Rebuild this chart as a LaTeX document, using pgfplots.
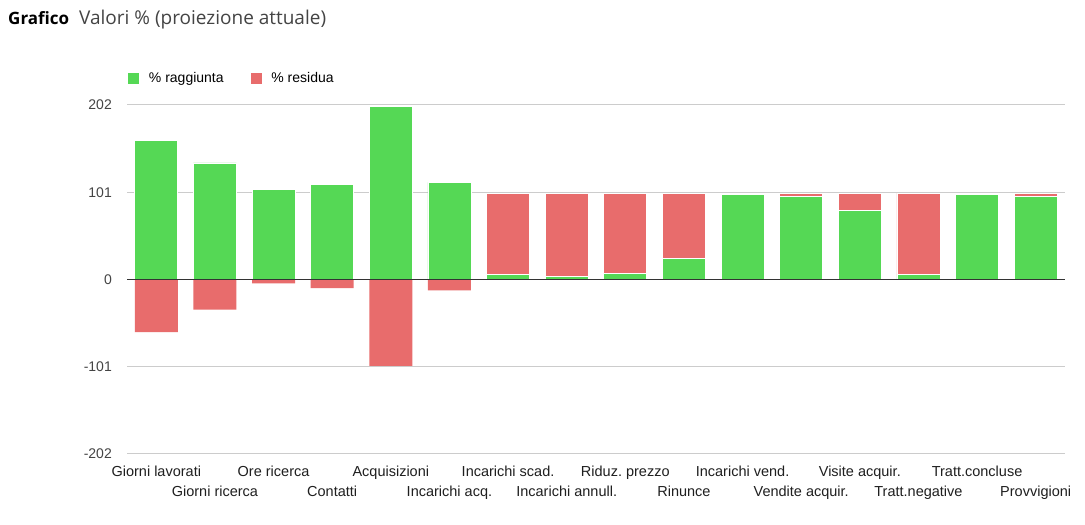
\documentclass[border=0pt]{standalone}
\usepackage{fontspec}
\setmainfont{Liberation Sans}
\newfontfamily\titlefont{Open Sans}
\usepackage{pgfplots}
\usepackage{pgfplotstable}
\pgfplotsset{compat=1.18}
\frenchspacing

\definecolor{verde}{RGB}{85,216,85}
\definecolor{rosso}{RGB}{232,108,108}
\definecolor{griglia}{RGB}{204,204,204}
\definecolor{testo}{RGB}{68,68,68}

% idx, % raggiunta, % residua (sopra), % residua (sotto lo zero)
\pgfplotstableread{
idx raggiunta residua negativa
0  161.0  0.0  -61.0
1  135.0  0.0  -35.0
2  104.5  0.0  -4.5
3  110.0  0.0  -10.0
4  200.0  0.0  -100.0
5  112.5  0.0  -12.5
6  5.4   94.6  0
7  3.1   96.9  0
8  6.6   93.4  0
9  24.0  76.0  0
10 98.0   2.0  0
11 96.4   3.6  0
12 79.5  20.5  0
13 5.4   94.6  0
14 98.0   2.0  0
15 96.4   3.6  0
}\dati

\pgfplotsset{
  base/.style={
    scale only axis, width=938pt, height=349pt,
    at={(127pt,71pt)}, anchor=south west,
    xmin=-0.5, xmax=15.5, ymin=-202, ymax=202,
    bar width=0.734,
  }
}

\begin{document}
\begin{tikzpicture}[x=1pt,y=1pt]
\path[use as bounding box, fill=white] (0,0) rectangle (1085,525);
\node[anchor=west, inner sep=0pt] at (8,505)
  {\titlefont\fontsize{17}{20}\selectfont\bfseries Grafico\hspace{10pt}\mdseries\color{testo}\fontsize{19}{22}\selectfont Valori \% (proiezione attuale)};

\begin{axis}[
  base,
  ybar stacked,
  axis line style={draw=none},
  major tick length=0pt,
  ytick={-202,-101,0,101,202},
  ymajorgrids,
  grid style={griglia, line width=1pt},
  /pgf/number format/assume math mode=true,
  yticklabel style={anchor=east, inner sep=0pt, xshift=-15pt, text=testo,
    font=\fontsize{14}{16}\selectfont},
  xtick={0,...,15},
  xticklabels={Giorni lavorati, Giorni ricerca, Ore ricerca, Contatti,
    Acquisizioni, Incarichi acq., Incarichi scad., Incarichi annull.,
    Riduz.\ prezzo, Rinunce, Incarichi vend., Vendite acquir.,
    Visite acquir., Tratt.negative, Tratt.concluse, Provvigioni},
  xticklabel style={anchor=base, inner sep=0pt, text=black!88,
    font=\fontsize{14.5}{16}\selectfont,
    yshift={-22.5pt-mod(\ticknum,2)*20pt}},
  legend columns=2,
  legend style={at={(0,1)}, anchor=west, yshift=27pt, draw=none, fill=none,
    inner sep=0pt, font=\fontsize{14}{16}\selectfont,
    /tikz/every odd column/.append style={column sep=7pt},
    /tikz/every even column/.append style={column sep=24pt}},
  legend image code/.code={\fill[#1] (0pt,-6pt) rectangle (12pt,6pt);},
]
\addplot[fill=verde, draw=white, line width=0.75pt] table[x=idx, y=raggiunta] {\dati};
\addplot[fill=rosso, draw=white, line width=0.75pt] table[x=idx, y=residua] {\dati};
\legend{\% raggiunta, \% residua}
\end{axis}

\begin{axis}[base, ybar, bar shift=0pt, hide axis]
\addplot[fill=rosso, draw=none] table[x=idx, y=negativa] {\dati};
\draw[color=black!80, line width=1pt] (axis cs:-0.5,0) -- (axis cs:15.5,0);
\end{axis}
\end{tikzpicture}
\end{document}
